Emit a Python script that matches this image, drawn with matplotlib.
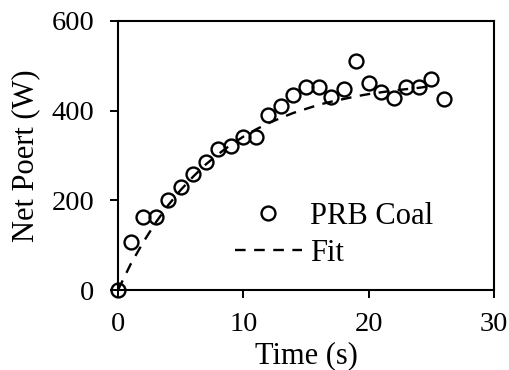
import numpy as np
import matplotlib.pyplot as plt

plt.rcParams['font.family'] = ['Liberation Serif', 'DejaVu Serif']
plt.rcParams['mathtext.fontset'] = 'stix'

# measured data (PRB coal)
time_s = [0, 1, 2, 3, 4, 5, 6, 7, 8, 9, 10, 11, 12, 13, 14, 15, 16, 17, 18,
          19, 20, 21, 22, 23, 24, 25, 26]
power_w = [0, 108, 163, 163, 200, 229, 259, 286, 314, 321, 342, 342, 390, 410,
           436, 452, 452, 430, 448, 511, 462, 441, 428, 453, 453, 470, 426]

# fit curve
fit_t = [0, 1, 2, 3, 4, 5, 6, 7, 8, 9, 10, 11, 12, 13, 14, 15, 16, 17, 18,
         19, 20, 21, 22, 23, 24, 25.3]
fit_w = [0, 57, 106, 150, 189, 223, 253, 280, 303, 324, 342, 358, 372, 384,
         395, 404, 413, 420, 426, 432, 437, 441, 445, 448, 451, 456]

fig = plt.figure(figsize=(5.1, 3.7), dpi=100)
ax = fig.add_axes([118 / 510, 1 - 290 / 370, 376 / 510, 269 / 370])

ax.plot(fit_t, fit_w, color='black', linestyle=(0, (4.5, 3.6)), linewidth=1.7,
        label='Fit', zorder=2)
ax.plot(time_s, power_w, linestyle='none', marker='o', markersize=10,
        markerfacecolor='none', markeredgecolor='black', markeredgewidth=1.7,
        label='PRB Coal', clip_on=False, zorder=3)

ax.set_xlim(0, 30)
ax.set_ylim(0, 600)
ax.set_xticks([0, 10, 20, 30])
ax.set_yticks([0, 200, 400, 600])
ax.tick_params(direction='out', length=6, width=1.4, labelsize=20.5,
               top=False, right=False)
ax.tick_params(axis='x', pad=10)
ax.tick_params(axis='y', pad=11)
for sp in ax.spines.values():
    sp.set_linewidth(1.5)

ax.set_xlabel('Time (s)', fontsize=22, labelpad=3)
ax.set_ylabel('Net Poert (W)', fontsize=22, labelpad=8)

handles, labels = ax.get_legend_handles_labels()
ax.legend(handles[::-1], labels[::-1], loc='center',
          bbox_to_anchor=((334 - 118) / 376, 1 - (235 - 21) / 269),
          frameon=False, fontsize=22, handlelength=2.2, handletextpad=0.26,
          labelspacing=0.25, borderpad=0)

fig.savefig('out.png', dpi=100)
